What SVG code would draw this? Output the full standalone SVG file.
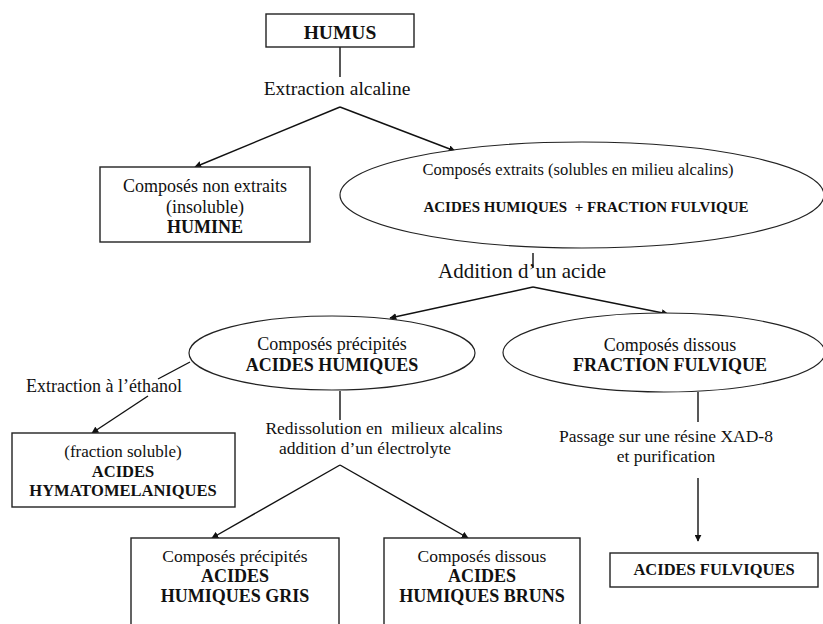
<svg xmlns="http://www.w3.org/2000/svg" width="823" height="624" viewBox="0 0 823 624">
<style>
  .box { fill: #fff; stroke: #222; stroke-width: 1.4; }
  .ell { fill: #fff; stroke: #222; stroke-width: 1.2; }
  .ln { fill: none; stroke: #111; stroke-width: 1.4; }
  .arr { marker-end: url(#ah); }
  text { font-family: "Liberation Serif", "Times New Roman", serif; fill: #111; text-anchor: middle; }
  .b { font-weight: bold; }
</style>
<defs>
  <marker id="ah" viewBox="0 0 10 10" refX="9" refY="5" markerWidth="7" markerHeight="7" markerUnits="userSpaceOnUse" orient="auto">
    <path d="M0,0 L10,5 L0,10 z" fill="#111"/>
  </marker>
</defs>
<rect width="823" height="624" fill="#fff"/>

<g id="connectors">
  <line class="ln" x1="340" y1="47" x2="340" y2="77"/>
  <line class="ln arr" x1="340" y1="107" x2="195" y2="167"/>
  <line class="ln arr" x1="340" y1="107" x2="455" y2="151"/>
  <line class="ln" x1="533" y1="253" x2="533" y2="268"/>
  <line class="ln arr" x1="533" y1="287" x2="390" y2="318"/>
  <line class="ln arr" x1="533" y1="287" x2="668" y2="314"/>
  <line class="ln" x1="190" y1="362" x2="158" y2="379"/>
  <line class="ln arr" x1="148" y1="396" x2="92" y2="433"/>
  <line class="ln" x1="340" y1="391" x2="340" y2="420"/>
  <line class="ln arr" x1="340" y1="465" x2="212" y2="538"/>
  <line class="ln arr" x1="340" y1="465" x2="468" y2="538"/>
  <line class="ln" x1="698" y1="392" x2="698" y2="422"/>
  <line class="ln arr" x1="698" y1="478" x2="698" y2="541"/>
</g>

<g id="humus">
  <rect class="box" x="266" y="14" width="148" height="33"/>
  <text class="b" x="340" y="39" font-size="19.5">HUMUS</text>
</g>

<g id="extraction-alcaline">
  <text x="337" y="95" font-size="19.5">Extraction alcaline</text>
</g>

<g id="humine">
  <rect class="box" x="100" y="167" width="210" height="75"/>
  <text x="205" y="192" font-size="18">Composés non extraits</text>
  <text x="205" y="213" font-size="18">(insoluble)</text>
  <text class="b" x="205" y="233" font-size="18">HUMINE</text>
</g>

<g id="composes-extraits">
  <ellipse class="ell" cx="582" cy="195" rx="242" ry="53"/>
  <text x="578" y="175" font-size="16.5">Composés extraits (solubles en milieu alcalins)</text>
  <text class="b" x="586" y="212" font-size="15" xml:space="preserve">ACIDES HUMIQUES  + FRACTION FULVIQUE</text>
</g>

<g id="addition-acide">
  <text x="522" y="278" font-size="21">Addition d’un acide</text>
</g>

<g id="acides-humiques">
  <ellipse class="ell" cx="332" cy="353" rx="143" ry="37"/>
  <text x="332" y="350" font-size="18">Composés précipités</text>
  <text class="b" x="332" y="371" font-size="18">ACIDES HUMIQUES</text>
</g>

<g id="fraction-fulvique">
  <ellipse class="ell" cx="664" cy="352.5" rx="161" ry="39.5"/>
  <text x="670" y="351" font-size="18">Composés dissous</text>
  <text class="b" x="670" y="371" font-size="18">FRACTION FULVIQUE</text>
</g>

<g id="extraction-ethanol">
  <text x="104" y="392" font-size="18">Extraction à l’éthanol</text>
</g>

<g id="hymatomelaniques">
  <rect class="box" x="12" y="433" width="223" height="74"/>
  <text x="123" y="457" font-size="17">(fraction soluble)</text>
  <text class="b" x="123" y="477" font-size="16.5">ACIDES</text>
  <text class="b" x="123" y="496" font-size="16.5">HYMATOMELANIQUES</text>
</g>

<g id="redissolution">
  <text x="384" y="434" font-size="17.5" xml:space="preserve">Redissolution en  milieux alcalins</text>
  <text x="365" y="454" font-size="17.5">addition d’un électrolyte</text>
</g>

<g id="passage-xad">
  <text x="666" y="442" font-size="17.5">Passage sur une résine XAD-8</text>
  <text x="666" y="462" font-size="17.5">et purification</text>
</g>

<g id="humiques-gris">
  <rect class="box" x="131" y="538" width="208" height="95"/>
  <text x="235" y="562" font-size="17.5">Composés précipités</text>
  <text class="b" x="235" y="582" font-size="18">ACIDES</text>
  <text class="b" x="235" y="602" font-size="18">HUMIQUES GRIS</text>
</g>

<g id="humiques-bruns">
  <rect class="box" x="384" y="538" width="196" height="95"/>
  <text x="482" y="562" font-size="17.5">Composés dissous</text>
  <text class="b" x="482" y="582" font-size="18">ACIDES</text>
  <text class="b" x="482" y="602" font-size="18">HUMIQUES BRUNS</text>
</g>

<g id="acides-fulviques">
  <rect class="box" x="610" y="553" width="208" height="34"/>
  <text class="b" x="714" y="575" font-size="16.5">ACIDES FULVIQUES</text>
</g>
</svg>
